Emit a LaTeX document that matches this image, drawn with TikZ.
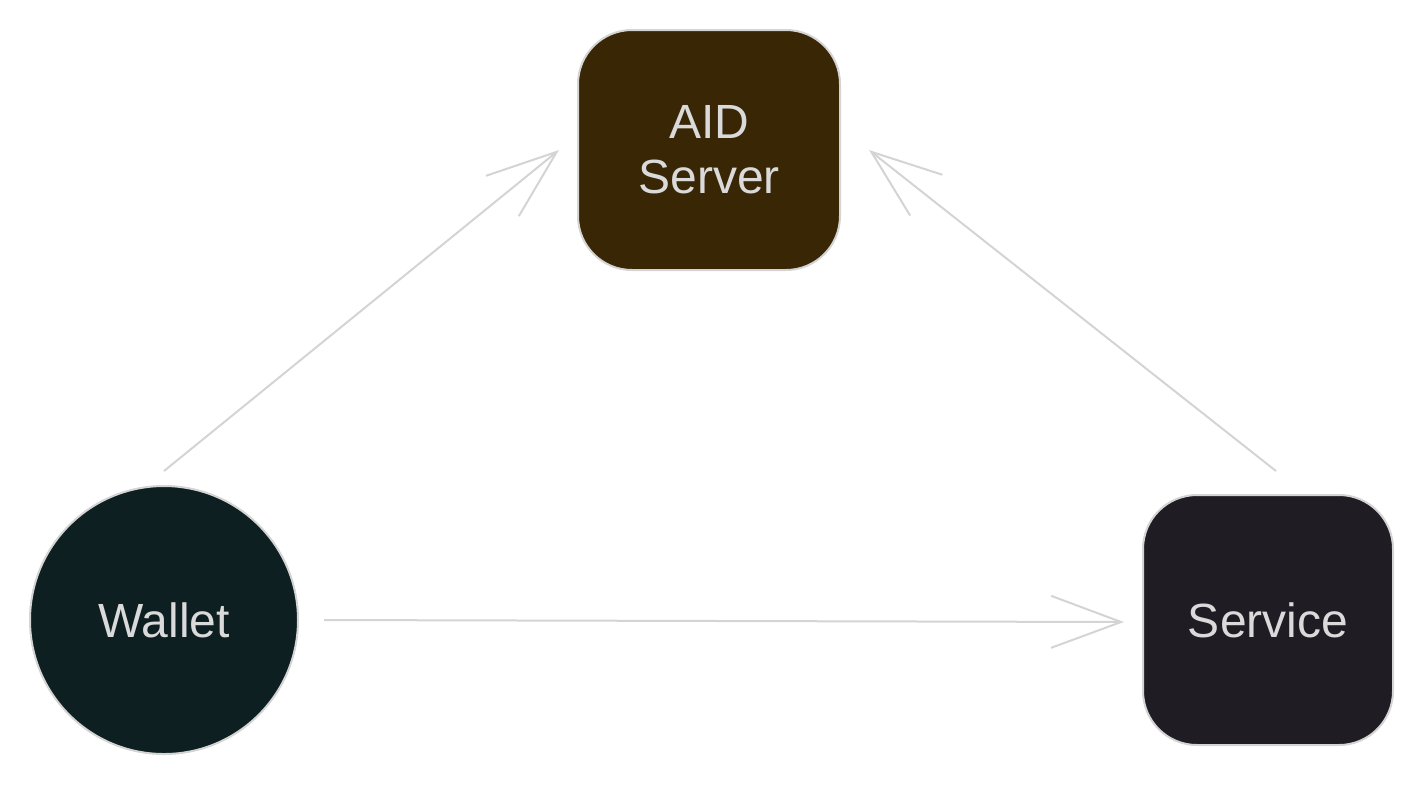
\documentclass[tikz,border=0pt]{standalone}
\usepackage{fontspec}
\setmainfont{Liberation Sans}
\usetikzlibrary{arrows.meta,positioning}

\definecolor{edgegray}{HTML}{D4D4D4}
\definecolor{textgray}{HTML}{DADADA}
\definecolor{aidbrown}{HTML}{382605}
\definecolor{walletgreen}{HTML}{0D1F20}
\definecolor{serviceink}{HTML}{201C24}

\tikzset{
  actor/.style={draw=edgegray, line width=1pt, text=textgray,
    font=\fontsize{24}{27.5}\selectfont, align=center, inner sep=0pt},
  boxnode/.style={actor, rectangle, rounded corners=27pt},
  flow/.style={draw=edgegray, line width=1pt,
    -{Straight Barb[length=35pt, width=26pt, line width=1pt]}}
}

\begin{document}
\begin{tikzpicture}[x=0.5pt, y=-0.5pt]
  \useasboundingbox (0,0) rectangle (1424,784);

  % Define nodes
  \node[boxnode, fill=aidbrown, minimum width=131pt, minimum height=120pt]
    (aid) at (709,150) {AID\\Server};
  \node[actor, circle, fill=walletgreen, minimum size=134pt]
    (wallet) at (164,620) {Wallet};
  \node[boxnode, fill=serviceink, minimum width=125pt, minimum height=125pt]
    (service) at (1268,620) {Service};

  % Connect the nodes
  \draw[flow] ([yshift=7pt]wallet.north) -- ([xshift=-9pt]aid.west);
  \draw[flow] ([xshift=4pt, yshift=11.5pt]service.north) -- ([xshift=14pt]aid.east);
  \draw[flow] ([xshift=12.5pt]wallet.east) -- ([xshift=-9pt, yshift=-1pt]service.west);

\end{tikzpicture}
\end{document}
